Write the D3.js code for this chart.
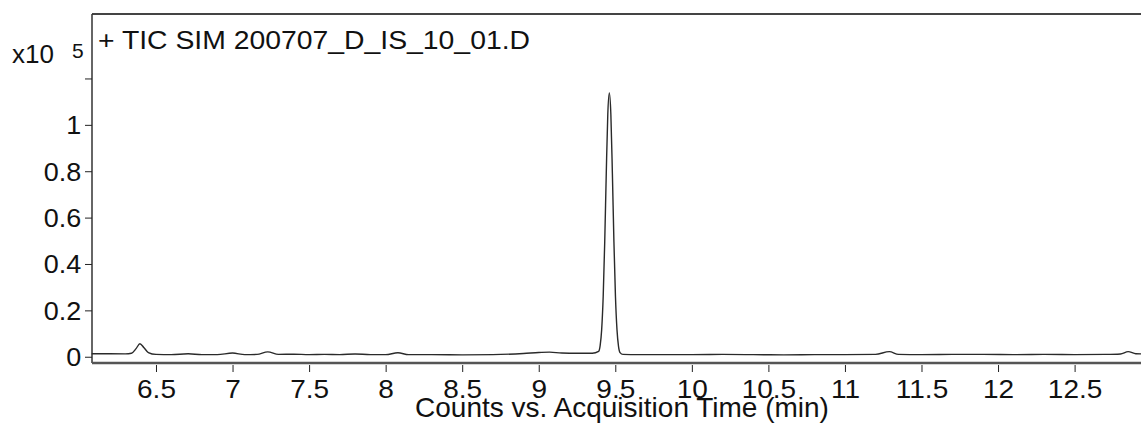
<!DOCTYPE html>
<html>
<head>
<meta charset="utf-8">
<script src="https://cdn.jsdelivr.net/npm/d3@7"></script>
<style>
  body { margin: 0; background: #fff; }
  svg { display: block; font-family: "Liberation Sans", Arial, sans-serif; }
</style>
</head>
<body>
<div class="chart"></div>
<script>
// acquisition time (min)
var times = [6.08, 6.20, 6.30, 6.34, 6.37, 6.395, 6.42, 6.45, 6.50, 6.60, 6.71, 6.80, 6.90,
  7.00, 7.08, 7.16, 7.23, 7.30, 7.40, 7.50, 7.60, 7.70, 7.80, 7.90, 8.00, 8.08, 8.15, 8.30,
  8.50, 8.70, 8.90, 9.00, 9.07, 9.15, 9.25, 9.35,
  9.391, 9.401, 9.411, 9.421, 9.431, 9.441, 9.451, 9.461, 9.471, 9.481, 9.491, 9.501, 9.511,
  9.521, 9.531, 9.55, 9.65, 9.80, 10.0, 10.2, 10.4, 10.6, 10.8, 11.0, 11.2, 11.29, 11.35,
  11.5, 11.7, 11.9, 12.1, 12.3, 12.5, 12.7, 12.8, 12.85, 12.9, 12.95];
// counts
var counts = [1300, 1300, 1250, 1500, 3500, 5600, 4000, 1800, 1000, 900, 1300, 900, 900,
  1600, 900, 1000, 2100, 1000, 1100, 900, 1000, 900, 1200, 900, 900, 1700, 900, 900,
  800, 900, 1400, 1800, 2000, 1600, 1500, 1500,
  2300, 4800, 11700, 26100, 49600, 79000, 104600, 113800, 104600, 79000, 49600, 26100, 11700,
  4500, 1800, 1000, 900, 900, 900, 1000, 900, 800, 900, 900, 1000, 2200, 1000,
  900, 1000, 1000, 900, 1000, 900, 1000, 1200, 2200, 1300, 1200];

var xTicks = [6.5, 7, 7.5, 8, 8.5, 9, 9.5, 10, 10.5, 11, 11.5, 12, 12.5];
var yTicks = [0, 20000, 40000, 60000, 80000, 100000, 120000];
var yTickLabels = ["0", "0.2", "0.4", "0.6", "0.8", "1", ""];
var title = "+ TIC SIM 200707_D_IS_10_01.D";
var xTitle = "Counts vs. Acquisition Time (min)";

var svgWidth = 1141, svgHeight = 430;
var margin = { top: 14, left: 92, bottom: 67 };
var width = 1150 - margin.left;
var height = svgHeight - margin.top - margin.bottom;

var data = times.map(function(t, i) { return { t: t, c: counts[i] }; });

var svg = d3.select(".chart").append("svg")
  .attr("width", svgWidth)
  .attr("height", svgHeight);

var chartGroup = svg.append("g")
  .attr("transform", `translate(${margin.left},${margin.top})`);

// scales
var x = d3.scaleLinear().domain([6.082, 6.082 + width / 153.1]).range([0, width]);
var y = d3.scaleLinear().domain([-2700, 147800]).range([height, 0]);

// frame
chartGroup.append("line")
  .attr("x1", 0).attr("x2", width).attr("y1", 0).attr("y2", 0)
  .attr("stroke", "#444").attr("stroke-width", 2);
chartGroup.append("line")
  .attr("x1", 0).attr("x2", 0).attr("y1", 0).attr("y2", height)
  .attr("stroke", "#333").attr("stroke-width", 1.5);
chartGroup.append("line")
  .attr("x1", 0).attr("x2", width).attr("y1", height).attr("y2", height)
  .attr("stroke", "#555").attr("stroke-width", 2.5);

// x axis
var xAxis = d3.axisBottom(x).tickValues(xTicks).tickSize(7).tickPadding(8)
  .tickFormat(d3.format("~g"));
var gx = chartGroup.append("g")
  .attr("transform", `translate(0,${height + 2})`)
  .call(xAxis);
gx.select(".domain").remove();
gx.selectAll(".tick line").attr("stroke", "#222");
gx.selectAll(".tick text")
  .attr("fill", "#111")
  .style("font-size", "25px")
  .attr("transform", "scale(1.12,1)");

// y axis
var yAxis = d3.axisLeft(y).tickValues(yTicks).tickSize(7).tickPadding(3)
  .tickFormat(function(d, i) { return yTickLabels[i]; });
var gy = chartGroup.append("g").call(yAxis);
gy.select(".domain").remove();
gy.selectAll(".tick line").attr("stroke", "#222");
gy.selectAll(".tick text")
  .attr("fill", "#111")
  .attr("dy", "0.36em")
  .style("font-size", "25px")
  .attr("transform", "scale(1.08,1)");

// trace
var line = d3.line()
  .x(function(d) { return x(d.t); })
  .y(function(d) { return y(d.c); })
  .curve(d3.curveMonotoneX);
chartGroup.append("path")
  .datum(data)
  .attr("d", line)
  .attr("fill", "none")
  .attr("stroke", "#2a2a2a")
  .attr("stroke-width", 1.4);

// texts
chartGroup.append("text")
  .attr("x", 6).attr("y", 35)
  .style("font-size", "25px")
  .attr("fill", "#111")
  .attr("textLength", 432)
  .attr("lengthAdjust", "spacingAndGlyphs")
  .text(title);

var yl = svg.append("text").attr("x", 12).attr("y", 63).attr("fill", "#111");
yl.append("tspan").style("font-size", "26px").text("x10");
yl.append("tspan").attr("dx", 18).attr("dy", -5).style("font-size", "21px").text("5");

svg.append("text")
  .attr("x", 622).attr("y", 417)
  .attr("text-anchor", "middle")
  .style("font-size", "28px")
  .attr("fill", "#111")
  .text(xTitle);
</script>
</body>
</html>
